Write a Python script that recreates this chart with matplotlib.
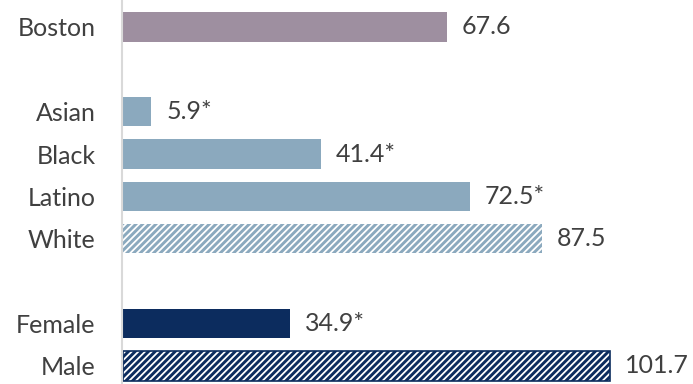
import matplotlib
matplotlib.use("Agg")
import matplotlib.pyplot as plt

categories = ["Boston", "Asian", "Black", "Latino", "White", "Female", "Male"]
values = [67.6, 5.9, 41.4, 72.5, 87.5, 34.9, 101.7]
value_labels = ["67.6", "5.9*", "41.4*", "72.5*", "87.5", "34.9*", "101.7"]
positions = [0, 2, 3, 4, 5, 7, 8]
colors = ["#9E8FA0", "#8BA9BE", "#8BA9BE", "#8BA9BE", "#8BA9BE", "#0C2C5E", "#0C2C5E"]
hatched = [False, False, False, False, True, False, True]

plt.rcParams['font.family'] = ['Lato', 'DejaVu Sans']
plt.rcParams['hatch.linewidth'] = 2.1

fig = plt.figure(figsize=(6.93, 3.84), dpi=100)
ax = fig.add_axes([122/693, 0, (687-122)/693, 1])

for pos, val, col, h, lab in zip(positions, values, colors, hatched, value_labels):
    if h:
        ec_lw = 1.2 if col == "#0C2C5E" else 0.0
        ax.barh(pos, val, height=0.69, facecolor="white", edgecolor=col,
                hatch="/////", linewidth=ec_lw, left=0.2)
    else:
        ax.barh(pos, val, height=0.69, color=col, linewidth=0, left=0.2)
    ax.text(val + 3.3, pos, lab, va="center", ha="left", fontsize=18, color="#404040")

ax.set_xlim(0, (687-122)/4.79)
ax.set_ylim(8.425, -0.637)
ax.set_yticks(positions)
ax.set_yticklabels(categories, fontsize=18, color="#404040")
ax.tick_params(axis="y", length=0, pad=19)
ax.set_xticks([])
for s in ["top", "right", "bottom"]:
    ax.spines[s].set_visible(False)
ax.spines["left"].set_color("#D9D9D9")
ax.spines["left"].set_linewidth(1.5)

fig.savefig("out.png", dpi=100)
